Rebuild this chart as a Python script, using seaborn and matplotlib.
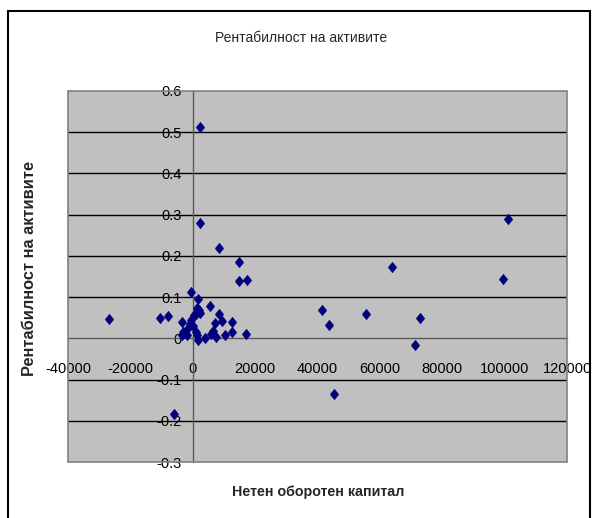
import numpy as np
import pandas as pd
import matplotlib
matplotlib.use("Agg")
import matplotlib.pyplot as plt
from matplotlib.patches import Rectangle
from matplotlib.ticker import FuncFormatter
import seaborn as sns

# Net working capital vs. return on assets
net_working_capital = [
    2240, 2240, 8550, 14740, 14740, 17300, -26900, -10600, -7900, -420,
    1820, 5670, 1380, 1920, 1180, 2460, 540, 8440, 9520, 7050,
    12600, -3530, -640, -960, 100, -1500, -3100, -2000, -3600, 960,
    1380, 1600, 4070, 6510, 7600, 6000, 10260, 12600, 17200, -5990,
    101180, 99580, 64000, 41450, 43800, 55450, 72750, 71250, 45400,
]
return_on_assets = [
    0.513, 0.280, 0.219, 0.184, 0.139, 0.141, 0.048, 0.049, 0.054, 0.113,
    0.095, 0.078, 0.074, 0.068, 0.060, 0.062, 0.057, 0.060, 0.042, 0.037,
    0.040, 0.040, 0.044, 0.034, 0.029, 0.024, 0.015, 0.007, 0.009, 0.015,
    0.007, -0.005, 0.001, 0.017, 0.003, 0.011, 0.007, 0.015, 0.011, -0.183,
    0.290, 0.145, 0.172, 0.068, 0.032, 0.059, 0.049, -0.016, -0.134,
]
x_ticks = [-40000, -20000, 0, 20000, 40000, 60000, 80000, 100000, 120000]
y_ticks = [-0.3, -0.2, -0.1, 0.0, 0.1, 0.2, 0.3, 0.4, 0.5, 0.6]

title = "Рентабилност на активите"
x_label = "Нетен оборотен капитал"
y_label = "Рентабилност на активите"

df = pd.DataFrame({"x": net_working_capital, "y": return_on_assets})

sns.set_style("white")
plt.rcParams["font.family"] = ["Liberation Sans", "DejaVu Sans"]

W, H = 598, 518
fig = plt.figure(figsize=(W / 100, H / 100), dpi=100)
fig.patch.set_facecolor("white")

L, R, T, B = 68, 567, 91, 462
ax = fig.add_axes([L / W, 1 - B / H, (R - L) / W, (B - T) / H])
ax.set_facecolor("#C0C0C0")

# horizontal gridlines inside the plot area
for yv in y_ticks[1:-1]:
    if abs(yv) > 1e-9:
        ax.axhline(yv, color="black", lw=1.0, zorder=1)

diamond = [(0, 1), (0.8, 0), (0, -1), (-0.8, 0), (0, 1)]
sns.scatterplot(data=df, x="x", y="y", ax=ax, marker=diamond, s=60,
                color="#000080", edgecolor="#000080", linewidth=0.3,
                zorder=4, legend=False)

ax.set_xlim(x_ticks[0], x_ticks[-1])
ax.set_ylim(y_ticks[0], y_ticks[-1])
ax.set_xticks(x_ticks)
ax.set_yticks(y_ticks)
ax.xaxis.set_major_formatter(FuncFormatter(lambda v, p: f"{int(round(v))}"))
ax.yaxis.set_major_formatter(FuncFormatter(lambda v, p: f"{round(v, 1):g}"))

# axes cross at the origin
for side in ("top", "right"):
    ax.spines[side].set_visible(False)
ax.spines["bottom"].set_position(("data", 0))
ax.spines["left"].set_position(("data", 0))
for side in ("bottom", "left"):
    ax.spines[side].set_color("#5a5a5a")
    ax.spines[side].set_linewidth(1.0)
    ax.spines[side].set_zorder(2)

ax.tick_params(axis="both", direction="out", length=4, width=1,
               color="#5a5a5a", labelsize=10.5, labelcolor="black")
ax.tick_params(axis="x", pad=13)
ax.tick_params(axis="y", pad=4)
ax.set_xlabel("")
ax.set_ylabel("")

# plot area border
ax.add_patch(Rectangle((0, 0), 1, 1, transform=ax.transAxes, fill=False,
                       edgecolor="#808080", lw=1.2, zorder=3, clip_on=False))

fig.text(301 / W, 1 - 38 / H, title, ha="center", va="center", fontsize=10)
fig.text(318 / W, 1 - 492 / H, x_label, ha="center", va="center",
         fontsize=10.3, fontweight="bold")
fig.text(30 / W, 1 - 268 / H, y_label, ha="center", va="center",
         fontsize=11.8, fontweight="bold", rotation=90)

# outer chart frame
fig.add_artist(Rectangle((8 / W, -0.05), (590 - 8) / W, 1 - 11 / H + 0.05,
                         transform=fig.transFigure, fill=False,
                         edgecolor="black", lw=1.5))

fig.savefig("out.png", dpi=100)
